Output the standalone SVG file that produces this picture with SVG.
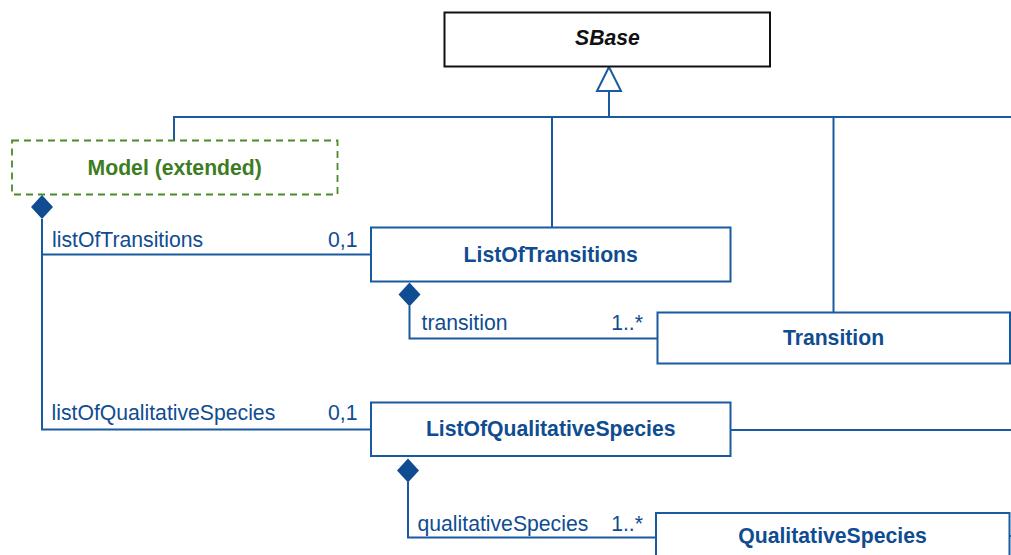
<svg xmlns="http://www.w3.org/2000/svg" width="1011" height="555" viewBox="0 0 1011 555">
  <style>
    .box { fill: #ffffff; stroke: #1a5aa0; stroke-width: 2; }
    .sbase { fill: #ffffff; stroke: #111111; stroke-width: 2; }
    .model { fill: #ffffff; stroke: #4a8a2a; stroke-width: 1.8; stroke-dasharray: 7 5; }
    .conn { fill: none; stroke: #1a5aa0; stroke-width: 2; }
    .dia { fill: #0f4c91; stroke: none; }
    .tri { fill: #ffffff; stroke: #1a5aa0; stroke-width: 2; }
    .title { font-family: "Liberation Sans", Arial, sans-serif; font-weight: bold; font-size: 21.2px; fill: #0f4c91; text-anchor: middle; }
    .lbl { font-family: "Liberation Sans", Arial, sans-serif; font-size: 21.2px; fill: #0f4c91; }
    .mult { font-family: "Liberation Sans", Arial, sans-serif; font-size: 21.2px; fill: #0f4c91; text-anchor: end; }
  </style>
  <rect width="1011" height="555" fill="#ffffff"/>

  <g id="connectors">
    <!-- generalization -->
    <path class="conn" d="M609,91 V117"/>
    <path class="conn" d="M174,140 V117 H1011"/>
    <path class="conn" d="M552,117 V227.5"/>
    <path class="conn" d="M833.5,117 V312.5"/>
    <polygon class="tri" points="609,67 597,91 621,91"/>
    <!-- compositions -->
    <path class="conn" d="M42,219 V429.5 H371"/>
    <path class="conn" d="M42,254.5 H371"/>
    <polygon class="dia" points="42,195 53,207 42,219 31,207"/>
    <path class="conn" d="M409.5,306 V338.5 H657.5"/>
    <polygon class="dia" points="409.5,282.5 420.5,294.5 409.5,306.5 398.5,294.5"/>
    <path class="conn" d="M408,482 V537.5 H656"/>
    <polygon class="dia" points="408,458.5 419,470.5 408,482.5 397,470.5"/>
    <path class="conn" d="M730.5,430 H1011"/>
    <path class="conn" d="M1009.5,536 H1011"/>
    <!-- labels -->
    <text class="lbl" x="52" y="246.5">listOfTransitions</text>
    <text class="mult" x="357.5" y="246.5">0,1</text>
    <text class="lbl" x="421.5" y="330">transition</text>
    <text class="mult" x="643" y="330">1..*</text>
    <text class="lbl" x="51.5" y="419.5">listOfQualitativeSpecies</text>
    <text class="mult" x="357.5" y="419.5">0,1</text>
    <text class="lbl" x="417.5" y="530.5">qualitativeSpecies</text>
    <text class="mult" x="643" y="530.5">1..*</text>
  </g>

  <g id="SBase">
    <rect class="sbase" x="444.5" y="12.5" width="325.5" height="54"/>
    <text class="title" x="607.5" y="45" style="fill:#111111;font-style:italic">SBase</text>
  </g>

  <g id="Model">
    <rect class="model" x="12" y="140.5" width="325.5" height="54"/>
    <text class="title" x="174.7" y="175" style="fill:#3c7d22">Model (extended)</text>
  </g>

  <g id="ListOfTransitions">
    <rect class="box" x="371" y="227.5" width="359.5" height="54"/>
    <text class="title" x="550.7" y="261.7">ListOfTransitions</text>
  </g>

  <g id="Transition">
    <rect class="box" x="657.5" y="312.5" width="352.5" height="51"/>
    <text class="title" x="833.5" y="345">Transition</text>
  </g>

  <g id="ListOfQualitativeSpecies">
    <rect class="box" x="371" y="402.5" width="359.5" height="53.5"/>
    <text class="title" x="550.7" y="436">ListOfQualitativeSpecies</text>
  </g>

  <g id="QualitativeSpecies">
    <rect class="box" x="656" y="513" width="353.5" height="60"/>
    <text class="title" x="832.5" y="543.3">QualitativeSpecies</text>
  </g>
</svg>
